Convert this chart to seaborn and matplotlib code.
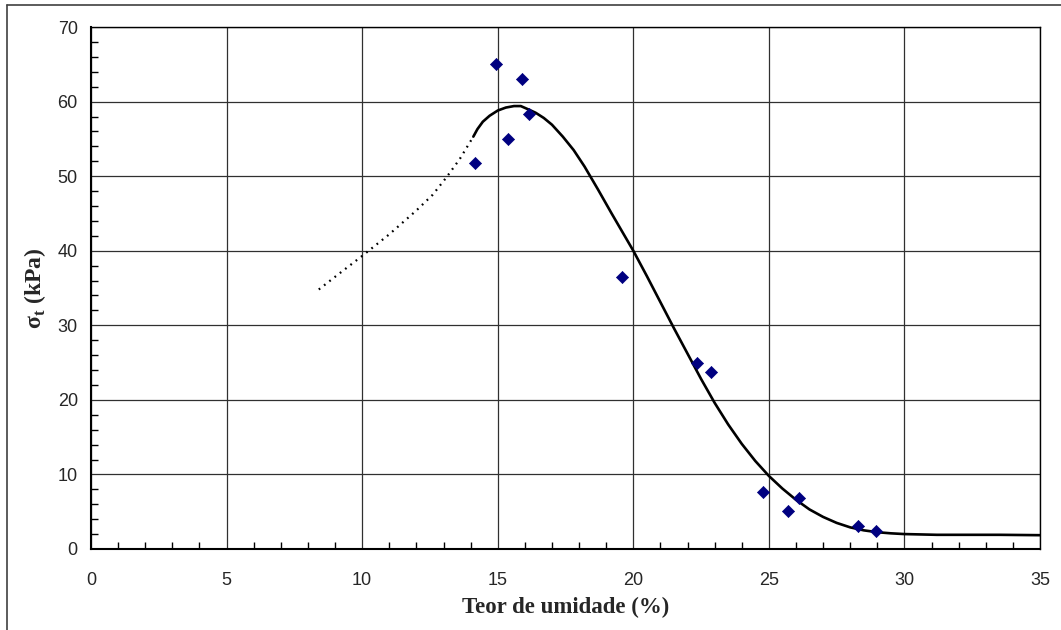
import seaborn as sns
import matplotlib.pyplot as plt
import pandas as pd
from matplotlib.ticker import MultipleLocator
from matplotlib.lines import Line2D

# Pontos experimentais
teor = [14.16, 14.94, 15.37, 15.89, 16.14, 19.59, 22.34, 22.86, 24.78, 25.72, 26.13, 28.28, 28.95]
sigma = [51.7, 65.1, 55.0, 63.0, 58.3, 36.5, 24.9, 23.7, 7.6, 5.05, 6.9, 3.1, 2.45]

# Curva de ajuste (trecho cheio)
curva_x = [14.1, 14.25, 14.45, 14.7, 15.0, 15.3, 15.6, 15.85, 16.1, 16.4, 16.7, 17.0,
           17.4, 17.8, 18.2, 18.7, 19.2, 19.6, 20.0, 20.5, 21.0, 21.5, 22.0, 22.5,
           23.0, 23.5, 24.0, 24.5, 25.0, 25.5, 26.0, 26.5, 27.0, 27.5, 28.0, 28.5,
           29.0, 29.5, 30.0, 30.6, 31.2, 32.0, 33.5, 35.0]
curva_y = [55.3, 56.3, 57.3, 58.1, 58.8, 59.2, 59.4, 59.4, 59.0, 58.5, 57.8, 56.9,
           55.3, 53.5, 51.3, 48.2, 45.0, 42.5, 40.0, 36.6, 33.1, 29.6, 26.2, 22.8,
           19.6, 16.7, 14.1, 11.8, 9.8, 8.1, 6.6, 5.3, 4.3, 3.5, 2.9, 2.5,
           2.25, 2.1, 2.0, 1.95, 1.9, 1.9, 1.9, 1.85]

# Extrapolação (trecho pontilhado)
extrap_x = [8.4, 9.0, 10.0, 11.0, 12.0, 12.6, 13.1, 13.6, 14.1]
extrap_y = [34.8, 36.5, 39.3, 42.2, 45.4, 47.5, 49.8, 52.3, 55.3]

pontos = pd.DataFrame({"Teor": teor, "Sigma": sigma})
curva = pd.DataFrame({"Teor": curva_x, "Sigma": curva_y})
extrap = pd.DataFrame({"Teor": extrap_x, "Sigma": extrap_y})

sns.set_style("white")
fig, ax = plt.subplots(figsize=(10.61, 6.30), dpi=100)
fig.subplots_adjust(left=0.0858, right=0.9802, top=0.9571, bottom=0.1286)

sns.lineplot(data=extrap, x="Teor", y="Sigma", ax=ax, color="black", lw=1.6,
             linestyle=(0, (0.8, 2.2)), sort=False, estimator=None, zorder=3)
sns.lineplot(data=curva, x="Teor", y="Sigma", ax=ax, color="black", lw=1.9,
             sort=False, estimator=None, zorder=3)
sns.scatterplot(data=pontos, x="Teor", y="Sigma", ax=ax, marker="D", s=38,
                color="#000080", edgecolor="#000080", linewidth=0.5, zorder=4)

ax.set_xlim(0, 35)
ax.set_ylim(0, 70)
ax.xaxis.set_major_locator(MultipleLocator(5))
ax.xaxis.set_minor_locator(MultipleLocator(1))
ax.yaxis.set_major_locator(MultipleLocator(10))
ax.yaxis.set_minor_locator(MultipleLocator(2))
ax.grid(which="major", color="#303030", lw=0.9)
ax.tick_params(which="major", direction="out", length=5.5, width=1, color="#404040",
               labelsize=13)
ax.tick_params(axis="x", which="major", pad=11)
ax.tick_params(axis="y", which="major", pad=4)
ax.tick_params(which="minor", direction="in", length=5, width=1, color="black",
               bottom=True, left=True)
for lbl in ax.get_xticklabels() + ax.get_yticklabels():
    lbl.set_family("Liberation Sans")

for side in ["left", "bottom"]:
    ax.spines[side].set_linewidth(1.5)
    ax.spines[side].set_color("black")
for side in ["top", "right"]:
    ax.spines[side].set_linewidth(1.0)
    ax.spines[side].set_color("black")

ax.set_xlabel("Teor de umidade (%)", family="Liberation Serif", fontweight="bold",
              fontsize=16.5, labelpad=6)
ax.set_ylabel(r"σ$_\mathregular{t}$ (kPa)", family="Liberation Serif", fontweight="bold",
              fontsize=17, labelpad=7)

# borda externa (esquerda e topo)
fig.add_artist(Line2D([7 / 1061, 7 / 1061], [0, 1 - 5 / 630], color="#404040", lw=1.2))
fig.add_artist(Line2D([7 / 1061, 1], [1 - 5 / 630, 1 - 5 / 630], color="#404040", lw=1.2))

fig.savefig("out.png", dpi=100)
